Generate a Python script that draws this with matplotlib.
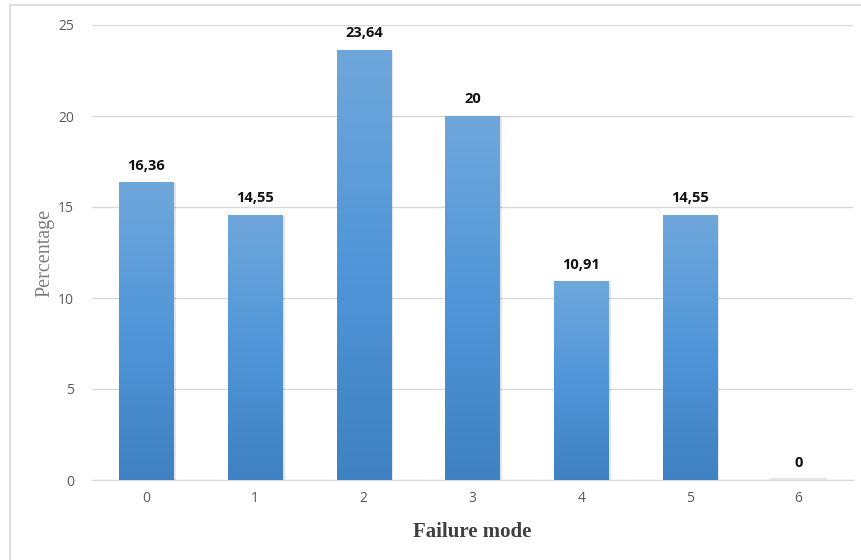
import numpy as np
import matplotlib
matplotlib.use("Agg")
import matplotlib.pyplot as plt
from matplotlib.colors import LinearSegmentedColormap
from matplotlib.lines import Line2D

# Data
modes = ["0", "1", "2", "3", "4", "5", "6"]
percent = [16.36, 14.55, 23.64, 20, 10.91, 14.55, 0]
labels = ["16,36", "14,55", "23,64", "20", "10,91", "14,55", "0"]

fig = plt.figure(figsize=(8.61, 5.6), dpi=100)
ax = fig.add_axes([92 / 861, 1 - 480 / 560, 761 / 861, 455 / 560])

x = np.arange(len(modes))
bars = ax.bar(x, percent, width=0.5, color="none", edgecolor="none", zorder=3)

# gradient fill, lighter at top
cmap = LinearSegmentedColormap.from_list("blu", ["#3f81c3", "#5096d8", "#6fa7db"])
grad = np.linspace(0, 1, 256).reshape(-1, 1)
for b in bars:
    h = b.get_height()
    if h <= 0:
        continue
    bx = b.get_x()
    w = b.get_width()
    # soft shadow
    ax.bar(bx + w / 2 + 0.012, h, width=w + 0.02, bottom=-0.05,
           color="#000000", alpha=0.10, zorder=2)
    im = ax.imshow(grad, extent=[bx, bx + w, 0, h], origin="lower",
                   cmap=cmap, aspect="auto", zorder=3)
    im.set_clip_path(b)

# zero bar shown as a faint line
ax.plot([6 - 0.25, 6 + 0.25], [0.05, 0.05], color="#e6e6e6", lw=1.5, zorder=2)

for xi, v, lab in zip(x, percent, labels):
    ax.annotate(lab, (xi, v), xytext=(0, 7), textcoords="offset points",
                ha="center", va="bottom", fontsize=10.5, fontweight="bold",
                color="#111111", family="Open Sans")

ax.set_xlim(-0.5, 6.5)
ax.set_ylim(0, 25)
ax.set_yticks([0, 5, 10, 15, 20, 25])
ax.set_xticks(x)
ax.set_xticklabels(modes)
ax.grid(axis="y", color="#d9d9d9", lw=1, zorder=0)
ax.set_axisbelow(True)
for s in ["top", "right", "left"]:
    ax.spines[s].set_visible(False)
ax.spines["bottom"].set_color("#d9d9d9")
ax.tick_params(length=0, labelsize=10, labelcolor="#595959")
ax.tick_params(axis="y", pad=13)
ax.tick_params(axis="x", pad=8)
for t in ax.get_xticklabels() + ax.get_yticklabels():
    t.set_family("Open Sans")

ax.set_ylabel("Percentage", family="Liberation Serif", fontsize=14.5, color="#7f7f7f")
ax.yaxis.set_label_coords(-0.049, 0.5)
ax.set_xlabel("Failure mode", family="Liberation Serif", fontsize=15,
              fontweight="bold", color="#404040")
ax.xaxis.set_label_coords(0.5, -0.093)

# outer chart frame (only top and left edges visible)
fig.add_artist(Line2D([10 / 861, 1], [1 - 5 / 560] * 2, color="#d9d9d9", lw=1.2))
fig.add_artist(Line2D([10 / 861] * 2, [0, 1 - 5 / 560], color="#d9d9d9", lw=1.2))

fig.savefig("out.png", dpi=100)
